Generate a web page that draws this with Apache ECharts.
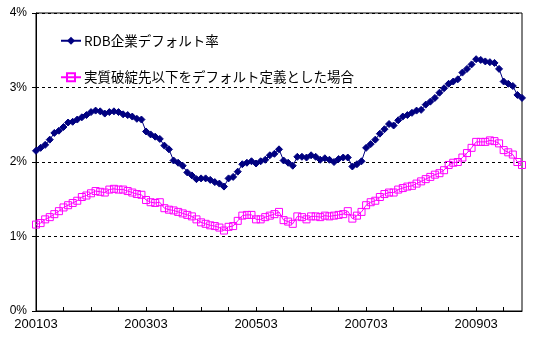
<!DOCTYPE html>
<html>
<head>
<meta charset="utf-8">
<script src="https://cdn.jsdelivr.net/npm/echarts@6/dist/echarts.min.js"></script>
<style>
html,body{margin:0;padding:0;background:#fff;}
#c{width:550px;height:342px;}
</style>
</head>
<body>
<div id="c"></div>
<script>
// Categories: monthly from 2001/03 to 2010/01 (YYYYMM)
var startYear = 2001, startMonth = 3, monthCount = 107;
var categories = [];
for (var k = 0; k < monthCount; k++) {
  var m = startMonth - 1 + k;
  var y = startYear + Math.floor(m / 12);
  var mm = (m % 12) + 1;
  categories.push(String(y) + (mm < 10 ? '0' : '') + mm);
}

var seriesNames = ['RDB企業デフォルト率', '実質破綻先以下をデフォルト定義とした場合'];

// RDB default rate (%)
var rdbRate = [
  2.15, 2.19, 2.23, 2.30, 2.39, 2.42, 2.47, 2.53, 2.54, 2.57,
  2.60, 2.63, 2.67, 2.69, 2.68, 2.65, 2.67, 2.68, 2.67, 2.64,
  2.63, 2.61, 2.58, 2.57, 2.41, 2.37, 2.34, 2.31, 2.22, 2.17,
  2.02, 1.99, 1.95, 1.86, 1.82, 1.77, 1.78, 1.78, 1.76, 1.73,
  1.71, 1.67, 1.78, 1.80, 1.87, 1.97, 1.99, 2.01, 1.98, 2.01,
  2.03, 2.09, 2.11, 2.17, 2.02, 1.99, 1.95, 2.07, 2.07, 2.06,
  2.09, 2.07, 2.03, 2.05, 2.03, 2.00, 2.04, 2.06, 2.06, 1.94,
  1.97, 2.01, 2.19, 2.24, 2.30, 2.38, 2.44, 2.51, 2.49, 2.56,
  2.61, 2.63, 2.66, 2.69, 2.70, 2.77, 2.81, 2.86, 2.93, 2.99,
  3.05, 3.08, 3.11, 3.20, 3.25, 3.31, 3.38, 3.37, 3.35, 3.34,
  3.33, 3.25, 3.08, 3.05, 3.02, 2.90, 2.86
];

// Default defined as "effectively bankrupt or worse" (%)
var bankruptRate = [
  1.16, 1.18, 1.23, 1.26, 1.30, 1.34, 1.39, 1.42, 1.45, 1.48,
  1.53, 1.55, 1.58, 1.61, 1.60, 1.59, 1.63, 1.64, 1.63, 1.63,
  1.61, 1.59, 1.57, 1.56, 1.49, 1.46, 1.45, 1.46, 1.38, 1.36,
  1.35, 1.33, 1.31, 1.29, 1.27, 1.23, 1.19, 1.17, 1.15, 1.14,
  1.12, 1.08, 1.13, 1.14, 1.21, 1.28, 1.29, 1.29, 1.23, 1.23,
  1.26, 1.28, 1.30, 1.33, 1.22, 1.20, 1.17, 1.27, 1.26, 1.23,
  1.27, 1.27, 1.26, 1.28, 1.27, 1.28, 1.29, 1.30, 1.34, 1.24,
  1.28, 1.33, 1.42, 1.46, 1.48, 1.53, 1.57, 1.59, 1.59, 1.63,
  1.65, 1.67, 1.68, 1.71, 1.74, 1.77, 1.80, 1.83, 1.85, 1.89,
  1.96, 1.99, 2.00, 2.06, 2.12, 2.19, 2.27, 2.27, 2.27, 2.29,
  2.28, 2.25, 2.16, 2.13, 2.10, 2.00, 1.96
];

var chart = echarts.init(document.getElementById('c'), null, {renderer: 'canvas'});
var baseFont = 'Arial, "Liberation Sans", "Noto Sans CJK JP", sans-serif';
chart.setOption({
  animation: false,
  backgroundColor: '#ffffff',
  textStyle: {fontFamily: baseFont},
  grid: {left: 36, right: 28, top: 13, bottom: 31, show: true, borderColor: '#000', borderWidth: 1, containLabel: false},
  legend: {
    orient: 'vertical',
    left: 55,
    top: 29,
    itemGap: 23,
    itemWidth: 20,
    itemHeight: 10,
    textStyle: {fontSize: 13.5, color: '#000', fontFamily: '"Noto Sans CJK JP", sans-serif', padding: [0, 0, 0, -2]},
    data: seriesNames
  },
  xAxis: {
    type: 'category',
    data: categories,
    boundaryGap: false,
    axisLine: {lineStyle: {color: '#000', width: 1}},
    axisTick: {show: true, inside: true, length: 4, interval: function (idx) { return idx % 6 === 0; }, lineStyle: {color: '#000'}},
    axisLabel: {interval: function (idx) { return idx % 24 === 0; }, color: '#000', fontSize: 13, margin: 7},
    splitLine: {show: false}
  },
  yAxis: {
    type: 'value',
    min: 0,
    max: 4,
    interval: 1,
    axisLine: {show: true, lineStyle: {color: '#000', width: 1}},
    axisTick: {show: true, inside: false, length: 4, lineStyle: {color: '#000'}},
    axisLabel: {formatter: '{value}%', color: '#000', fontSize: 12, margin: 9},
    splitLine: {show: true, lineStyle: {color: '#000', type: [3, 3], width: 1}}
  },
  series: [
    {
      name: seriesNames[0],
      type: 'line',
      data: rdbRate,
      symbol: 'diamond',
      symbolSize: 7,
      showAllSymbol: true,
      lineStyle: {color: '#000080', width: 1},
      itemStyle: {color: '#000080', borderColor: '#000080'}
    },
    {
      name: seriesNames[1],
      type: 'line',
      data: bankruptRate,
      symbol: 'rect',
      symbolSize: 7,
      showAllSymbol: true,
      lineStyle: {color: '#ff00ff', width: 1},
      itemStyle: {color: 'rgba(255,255,255,0)', borderColor: '#ff00ff', borderWidth: 1}
    }
  ]
});
</script>
</body>
</html>
